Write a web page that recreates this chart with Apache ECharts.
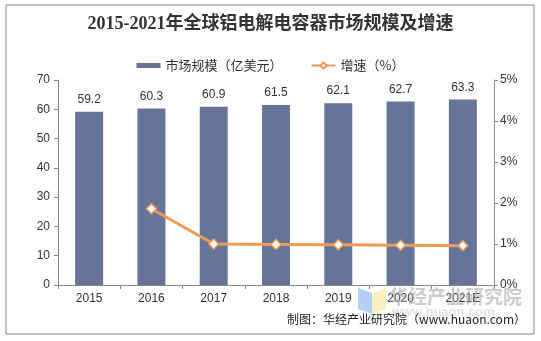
<!DOCTYPE html>
<html><head><meta charset="utf-8">
<script src="https://cdn.jsdelivr.net/npm/echarts@6/dist/echarts.min.js"></script>
<style>html,body{margin:0;padding:0;background:#fff}#c{width:541px;height:341px}</style>
</head><body><div id="c"></div>
<script>
var categories = ['2015','2016','2017','2018','2019','2020','2021E'];
var marketSize = [59.2, 60.3, 60.9, 61.5, 62.1, 62.7, 63.3];
var growth = [null, 1.86, 1.0, 0.99, 0.98, 0.97, 0.96];
var leftTicks = {min:0, max:70, interval:10};
var rightTicks = {min:0, max:5, interval:1};

var chart = echarts.init(document.getElementById('c'), null, {renderer:'canvas'});
var font = 'Liberation Sans, Arial, Noto Sans CJK SC, sans-serif';
chart.setOption({
  animation:false,
  backgroundColor:'#fff',
  title:{text:'2015-2021年全球铝电解电容器市场规模及增速', left:'center', top:10,
    textStyle:{fontFamily:'Liberation Serif, Noto Sans CJK SC, serif', fontSize:18, fontWeight:'bold', color:'#333'}},
  legend:{top:54, left:'center', itemGap:28, itemWidth:24, itemHeight:8, symbolKeepAspect:true,
    textStyle:{fontFamily:'Noto Sans CJK SC, sans-serif', fontSize:13, color:'#333'},
    data:[{name:'市场规模（亿美元）', icon:'path://M0,0H48V10H0Z'}, {name:'增速（%）'}]},
  grid:{left:58, right:47, top:80, bottom:56},
  xAxis:{type:'category', data:categories,
    axisLine:{lineStyle:{color:'#888'}},
    axisTick:{show:true, alignWithLabel:false, length:4, lineStyle:{color:'#888'}},
    axisLabel:{fontFamily:font, fontSize:12, color:'#333', margin:8}},
  yAxis:[{type:'value', min:leftTicks.min, max:leftTicks.max, interval:leftTicks.interval,
      splitLine:{show:false},
      axisLine:{show:true, lineStyle:{color:'#888'}},
      axisTick:{show:true, length:4, lineStyle:{color:'#888'}},
      axisLabel:{fontFamily:font, fontSize:12, color:'#333', margin:8}},
    {type:'value', min:rightTicks.min, max:rightTicks.max, interval:rightTicks.interval,
      splitLine:{show:false},
      axisLine:{show:true, lineStyle:{color:'#888'}},
      axisTick:{show:true, length:4, lineStyle:{color:'#888'}},
      axisLabel:{fontFamily:font, fontSize:12, color:'#333', margin:6, formatter:'{value}%'}}],
  series:[
    {name:'市场规模（亿美元）', type:'bar', data:marketSize, barWidth:28,
      itemStyle:{color:'#67749A'},
      label:{show:true, position:'top', distance:6, fontFamily:font, fontSize:12, color:'#333'}},
    {name:'增速（%）', type:'line', yAxisIndex:1, data:growth,
      lineStyle:{color:'#EE9B57', width:3},
      itemStyle:{color:'#fff', borderColor:'#EE9B57', borderWidth:1.5},
      symbol:'diamond', symbolSize:10, showAllSymbol:true, z:5}
  ],
  graphic:[
    {type:'rect', shape:{x:6, y:5, width:528, height:329}, style:{fill:'none', stroke:'#888', lineWidth:1}, silent:true, z:-1},
    {type:'polygon', shape:{points:[[358,288],[372,293],[372,314],[358,309]]}, style:{fill:'rgba(120,170,240,0.55)'}, z:20},
    {type:'polygon', shape:{points:[[372,293],[386,288],[386,309],[372,314]]}, style:{fill:'rgba(250,230,150,0.6)'}, z:20},
    {type:'text', left:389, top:287, style:{text:'华经产业研究院', font:'bold 19px Noto Sans CJK SC', fill:'rgba(170,170,170,0.6)'}, z:20},
    {type:'text', left:392, top:306, style:{text:'www.huaon.com', font:'bold 13px Liberation Sans', fill:'rgba(200,200,200,0.5)', letterSpacing:3}, z:20},
    {type:'text', right:15, top:313, style:{text:'制图：华经产业研究院（www.huaon.com）', font:'12px Noto Sans CJK SC', fill:'#222'}, z:21}
  ]
});
</script></body></html>
